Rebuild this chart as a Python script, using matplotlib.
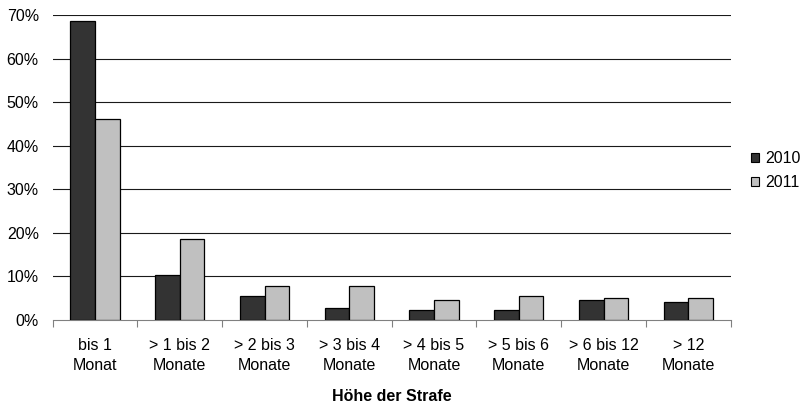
import matplotlib
matplotlib.use("Agg")
import matplotlib.pyplot as plt
import numpy as np
from matplotlib.ticker import FixedLocator, PercentFormatter
from matplotlib.patches import Patch

plt.rcParams['font.family'] = ['Liberation Sans', 'DejaVu Sans']

categories = ["bis 1\nMonat", "> 1 bis 2\nMonate", "> 2 bis 3\nMonate", "> 3 bis 4\nMonate",
              "> 4 bis 5\nMonate", "> 5 bis 6\nMonate", "> 6 bis 12\nMonate", "> 12\nMonate"]
series_names = ["2010", "2011"]
values_2010 = [68.7, 10.4, 5.4, 2.7, 2.4, 2.2, 4.5, 4.2]
values_2011 = [46.2, 18.7, 7.9, 7.7, 4.5, 5.4, 5.1, 5.1]
colors = ["#333333", "#C0C0C0"]
yticks = [0, 10, 20, 30, 40, 50, 60, 70]

fig = plt.figure(figsize=(8.04, 4.04), dpi=100)
ax = fig.add_axes([0.0655, 0.2079, 0.8433, 0.755])

n = len(categories)
x = np.arange(n) + 0.5
w = 0.29
ax.bar(x - w / 2, values_2010, w, color=colors[0], edgecolor="black", linewidth=0.9, zorder=3)
ax.bar(x + w / 2, values_2011, w, color=colors[1], edgecolor="black", linewidth=0.9, zorder=3)

ax.set_xlim(0, n)
ax.set_ylim(0, 70)
ax.set_yticks(yticks)
ax.yaxis.set_major_formatter(PercentFormatter(decimals=0))
ax.tick_params(axis='y', length=0, labelsize=11.5, pad=10)
for t in yticks[1:]:
    ax.axhline(t, color="#1a1a1a", linewidth=0.8, zorder=1)

ax.xaxis.set_major_locator(FixedLocator(np.arange(n + 1)))
ax.xaxis.set_minor_locator(FixedLocator(x))
ax.set_xticklabels([], minor=False)
ax.set_xticklabels(categories, minor=True, fontsize=11.5, linespacing=1.45)
ax.tick_params(axis='x', which='major', direction='out', length=5, color="#808080", width=0.8)
ax.tick_params(axis='x', which='minor', length=0, pad=13)

for s in ["top", "right", "left"]:
    ax.spines[s].set_visible(False)
ax.spines["bottom"].set_color("#808080")
ax.spines["bottom"].set_linewidth(0.8)

ax.set_xlabel("Höhe der Strafe", fontsize=11.5, fontweight="bold", labelpad=11)

handles = [Patch(facecolor=colors[0], edgecolor="black", linewidth=0.8),
           Patch(facecolor=colors[1], edgecolor="black", linewidth=0.8)]
ax.legend(handles, series_names, loc="center left", bbox_to_anchor=(1.03, 0.49),
          frameon=False, fontsize=11.5, handlelength=0.52, handleheight=0.52,
          handletextpad=0.35, labelspacing=0.55, borderpad=0, borderaxespad=0)

fig.savefig("out.png", dpi=100)
